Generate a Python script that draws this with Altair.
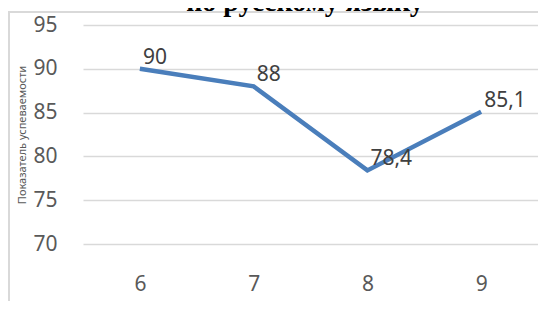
import altair as alt
import pandas as pd

grades = ["6", "7", "8", "9"]
scores = [90, 88, 78.4, 85.1]
title_text = "по русскому языку"
y_title = "Показатель успеваемости"
y_ticks = [70, 75, 80, 85, 90, 95]

df = pd.DataFrame({"grade": grades, "score": scores})
df["label"] = [f"{v:g}".replace(".", ",") for v in scores]

W, H = 455, 219
FONT = "Noto Sans"

x_enc = alt.X(
    "grade:N", sort=grades,
    scale=alt.Scale(type="point", padding=0.5),
    axis=alt.Axis(labelAngle=0, labelFont=FONT, labelFontSize=21, labelColor="#595959",
                  labelPadding=29, labelBaseline="top", domain=False, ticks=False,
                  tickSize=0, grid=False, title=None),
)
y_enc = alt.Y(
    "score:Q",
    scale=alt.Scale(domain=[70, 95], nice=False, zero=False),
    axis=alt.Axis(values=y_ticks, labelFont=FONT, labelFontSize=21, labelColor="#595959",
                  labelPadding=26, domain=False, ticks=False, tickSize=0,
                  grid=True, gridColor="#d9d9d9", gridWidth=1.5,
                  title=y_title, titleFont=FONT, titleFontSize=11, titleFontWeight="normal",
                  titleColor="#595959", titleAngle=-90, titleX=-61, titleY=H / 2,
                  titleAlign="center", titleBaseline="middle"),
)

border = alt.Chart(alt.Data(values=[{}])).mark_rect(
    filled=False, stroke="#d9d9d9", strokeWidth=2
).encode(x=alt.value(-74), x2=alt.value(W + 30), y=alt.value(-13), y2=alt.value(H + 90))

line = alt.Chart(df).mark_line(color="#4a7ebb", strokeWidth=4.5).encode(x=x_enc, y=y_enc)

labels = alt.Chart(df).mark_text(
    font=FONT, fontSize=21, color="#404040", align="left", baseline="alphabetic", dx=3, dy=-5
).encode(x=alt.X("grade:N", sort=grades), y="score:Q", text="label:N")

title = alt.Chart(alt.Data(values=[{}])).mark_text(
    text=title_text, font="Liberation Serif", fontWeight="bold", fontSize=28,
    align="center", baseline="alphabetic", color="#000000"
).encode(x=alt.value(222), y=alt.value(-14))

chart = alt.layer(border, line, labels, title).properties(
    width=W, height=H,
    autosize=alt.AutoSizeParams(type="none"),
    padding={"left": 75, "top": 17, "right": 0, "bottom": 57},
).configure_view(stroke=None)

chart.save("out.html", embed_options={"renderer": "svg", "actions": False})
